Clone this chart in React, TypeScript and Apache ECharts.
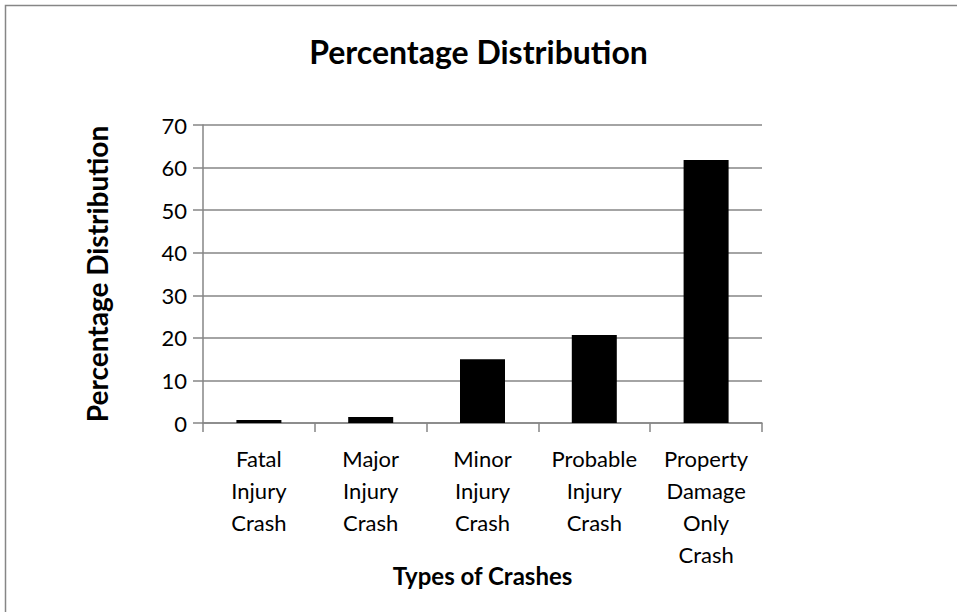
import React, { useEffect, useRef } from "react";
import * as echarts from "echarts";

const categories = [
  "Fatal Injury Crash",
  "Major Injury Crash",
  "Minor Injury Crash",
  "Probable Injury Crash",
  "Property Damage Only Crash",
];
const values = [0.7, 1.4, 15.0, 20.7, 61.8];
const yTicks = { min: 0, max: 70, interval: 10 };

const FONT = "Lato";
const GRAY = "#868686";

export default function App() {
  const ref = useRef<HTMLDivElement>(null);
  useEffect(() => {
    if (!ref.current) return;
    const chart = echarts.init(ref.current, undefined, { renderer: "svg" });
    chart.setOption({
      animation: false,
      backgroundColor: "#ffffff",
      title: {
        text: "Percentage Distribution",
        left: "center",
        top: 30,
        textStyle: { fontFamily: FONT, fontWeight: "bold", fontSize: 32, color: "#000" },
      },
      graphic: [
        {
          type: "rect",
          shape: { x: 5.5, y: 5.5, width: 1200, height: 900 },
          style: { fill: "none", stroke: GRAY, lineWidth: 1.5 },
          silent: true,
        },
      ],
      grid: { left: 203, right: 195, top: 125, bottom: 189 },
      xAxis: {
        type: "category",
        data: categories,
        name: "Types of Crashes",
        nameLocation: "middle",
        nameGap: 140,
        nameMoveOverlap: false,
        nameTextStyle: { fontFamily: FONT, fontWeight: "bold", fontSize: 24, color: "#000" },
        axisLine: { lineStyle: { color: GRAY, width: 1.5 } },
        axisTick: { show: true, length: 9, alignWithLabel: false, lineStyle: { color: GRAY, width: 1.5 } },
        axisLabel: {
          interval: 0,
          margin: 19,
          fontFamily: FONT,
          fontSize: 22,
          lineHeight: 32,
          color: "#000",
          formatter: (v: string) => v.split(" ").join("\n"),
        },
      },
      yAxis: {
        type: "value",
        min: yTicks.min,
        max: yTicks.max,
        interval: yTicks.interval,
        name: "Percentage Distribution",
        nameLocation: "middle",
        nameGap: 92,
        nameMoveOverlap: false,
        nameTextStyle: { fontFamily: FONT, fontWeight: "bold", fontSize: 28, color: "#000" },
        axisLine: { show: true, lineStyle: { color: GRAY, width: 1.5 } },
        axisTick: { show: true, length: 10, lineStyle: { color: GRAY, width: 1.5 } },
        axisLabel: { margin: 16, fontFamily: FONT, fontSize: 22, color: "#000" },
        splitLine: { show: true, lineStyle: { color: GRAY, width: 1.5 } },
      },
      series: [
        {
          type: "bar",
          data: values,
          barWidth: 45,
          itemStyle: { color: "#000000" },
        },
      ],
    });
    return () => chart.dispose();
  }, []);
  return (
    <div
      ref={ref}
      style={{ position: "fixed", left: 0, top: 0, width: 957, height: 612 }}
    />
  );
}
